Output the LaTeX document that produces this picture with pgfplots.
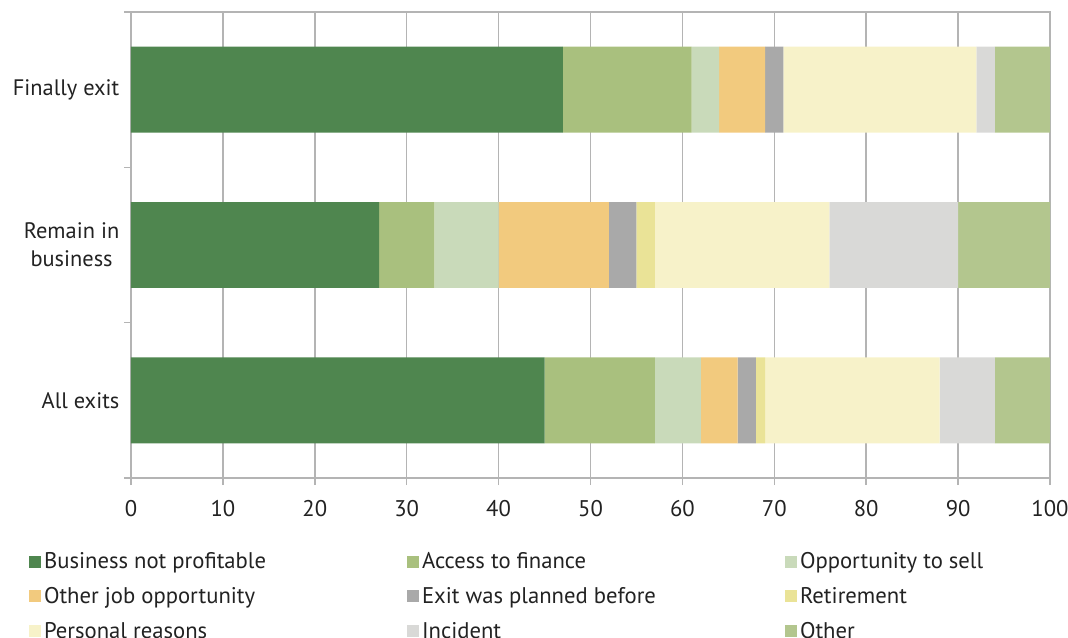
\documentclass[border=0pt]{standalone}
\usepackage{pgfplots}
\pgfplotsset{compat=1.18}
\usepackage{fontspec}
\setmainfont{PT Sans}
\definecolor{c1}{HTML}{4F864F}
\definecolor{c2}{HTML}{A9C07E}
\definecolor{c3}{HTML}{C9DABA}
\definecolor{c4}{HTML}{F2CA7E}
\definecolor{c5}{HTML}{A9A9A9}
\definecolor{c6}{HTML}{EAE397}
\definecolor{c7}{HTML}{F7F2C9}
\definecolor{c8}{HTML}{D9D9D7}
\definecolor{c9}{HTML}{B3C68E}
\definecolor{gridc}{HTML}{B4B4B4}
\definecolor{txt}{HTML}{222222}
\newcommand{\legtxt}[1]{\makebox[270.5pt][l]{#1}}
\begin{document}
\begin{tikzpicture}
\useasboundingbox (-98.25pt,-120pt) rectangle (702.75pt,358.5pt);
\begin{axis}[
  at={(0,0)}, anchor=south west,
  scale only axis, width=689.25pt, height=349.5pt,
  xbar stacked, bar width=0.553,
  xmin=0, xmax=100, ymin=-0.5, ymax=2.5,
  xtick={0,10,...,100},
  ytick={-0.5,0.5,1.5,2.5},
  yticklabels={},
  extra y ticks={0,1,2},
  extra y tick labels={All exits, {Remain in\\business}, Finally exit},
  extra y tick style={tick style={draw=none}},
  yticklabel style={align=center, font=\fontsize{16.8}{21}\selectfont, text=txt},
  xticklabel style={font=\fontsize{17}{19}\selectfont, text=txt, yshift=-8pt},
  /pgf/number format/assume math mode=true,
  xmajorgrids, grid style={gridc, line width=1.1pt},
  axis line style={gridc, line width=1.1pt},
  xtick pos=bottom, ytick pos=left,
  tick align=outside,
  major tick length=5.25pt,
  tick style={gridc, line width=1.1pt},
  legend columns=3,
  legend cell align=left,
  legend style={draw=none, fill=none, at={(-0.1152,-0.148)}, anchor=north west,
    font=\fontsize{17}{19}\selectfont, text=txt, row sep=8.5pt},
  legend image code/.code={\fill[#1] (0pt,-4.5pt) rectangle (9pt,4.5pt);},
]
\addplot[fill=c1, draw=none] coordinates {(45,0) (27,1) (47,2)};
\addlegendentry{\legtxt{Business not profitable}}
\addplot[fill=c2, draw=none] coordinates {(12,0) (6,1) (14,2)};
\addlegendentry{\legtxt{Access to finance}}
\addplot[fill=c3, draw=none] coordinates {(5,0) (7,1) (3,2)};
\addlegendentry{\legtxt{Opportunity to sell}}
\addplot[fill=c4, draw=none] coordinates {(4,0) (12,1) (5,2)};
\addlegendentry{\legtxt{Other job opportunity}}
\addplot[fill=c5, draw=none] coordinates {(2,0) (3,1) (2,2)};
\addlegendentry{\legtxt{Exit was planned before}}
\addplot[fill=c6, draw=none] coordinates {(1,0) (2,1) (0,2)};
\addlegendentry{\legtxt{Retirement}}
\addplot[fill=c7, draw=none] coordinates {(19,0) (19,1) (21,2)};
\addlegendentry{\legtxt{Personal reasons}}
\addplot[fill=c8, draw=none] coordinates {(6,0) (14,1) (2,2)};
\addlegendentry{\legtxt{Incident}}
\addplot[fill=c9, draw=none] coordinates {(6,0) (10,1) (6,2)};
\addlegendentry{\legtxt{Other}}
\end{axis}
\end{tikzpicture}
\end{document}
